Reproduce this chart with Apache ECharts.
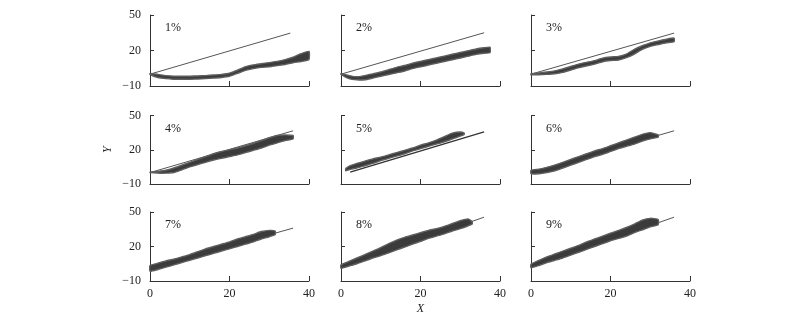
<!DOCTYPE html>
<html>
<head>
<meta charset="utf-8">
<script src="https://cdn.jsdelivr.net/npm/echarts@6/dist/echarts.min.js"></script>
<style>
  html, body { margin: 0; padding: 0; background: #fff; }
  #chart { width: 800px; height: 329px; }
</style>
</head>
<body>
<div id="chart"></div>
<script>
// Panel captions (growth rate per panel)
const panelLabels = ['1%', '2%', '3%', '4%', '5%', '6%', '7%', '8%', '9%'];

// Axis ranges and tick labels
const xTickValues = [0, 20, 40];
const yTickValues = [-10, 20, 50];

// Simulated trajectory envelopes: x positions, lower and upper edges
const bandX1 = [0, 2, 4, 6, 8, 10, 12, 14, 16, 18, 20, 22, 24, 26, 28, 30, 32, 34, 36, 38, 40];
const bandLow1 = [-0.3, -2.8, -3.8, -4.3, -4.3, -4.3, -4.1, -3.8, -3.3, -2.8, -1.8, 0.7, 3.2, 4.7, 5.7, 6.2, 7.2, 8.2, 9.7, 10.7, 12.3];
const bandHigh1 = [0.6, -0.2, -1.2, -1.7, -1.7, -1.7, -1.5, -1.2, -0.7, -0.2, 0.8, 3.3, 6.3, 7.8, 8.8, 9.8, 10.8, 12.3, 14.3, 17.3, 19.3];

const bandX2 = [0, 2, 4, 6, 8, 10, 12, 14, 16, 18, 20, 22, 24, 26, 28, 30, 32, 34, 36, 37.5];
const bandLow2 = [-0.3, -3.8, -4.8, -4.8, -3.3, -1.8, -0.3, 1.2, 2.7, 4.7, 6.2, 7.7, 9.2, 10.7, 12.2, 13.7, 15.2, 16.7, 17.7, 18.2];
const bandHigh2 = [0.6, -1.2, -2.2, -1.2, 0.3, 1.8, 3.8, 5.8, 7.3, 9.3, 10.8, 12.3, 13.8, 15.3, 16.8, 18.3, 19.8, 21.3, 22.3, 22.8];

const bandX3 = [0, 2, 4, 6, 8, 10, 12, 14, 16, 18, 20, 22, 24, 26, 28, 30, 32, 34, 36];
const bandLow3 = [-0.5, -0.5, -0.2, 0.3, 1.5, 3.5, 5.5, 7, 8.5, 10.5, 11.5, 12, 14, 17, 21, 23.5, 25, 26.5, 27.5];
const bandHigh3 = [0.5, 1, 1.8, 2.8, 4.5, 6.5, 8.5, 10, 11.5, 13.5, 14.5, 15, 17, 21, 24, 26.5, 28, 29.5, 30.5];

const bandX4 = [0, 2, 4, 6, 8, 10, 12, 14, 16, 18, 20, 22, 24, 26, 28, 30, 32, 34, 36];
const bandLow4 = [0, -0.5, -0.5, 0, 2.5, 5, 7, 9, 11, 12.5, 14, 15.5, 17.5, 19.5, 21.5, 24, 26, 28, 29.5];
const bandHigh4 = [0.3, 1, 2, 4, 6.5, 9, 11.5, 14, 16.5, 18.5, 20, 21.5, 23.5, 25.5, 28, 30.5, 32.5, 33, 32.5];

const bandX5 = [1.2, 2, 4, 6, 8, 10, 12, 14, 16, 18, 20, 22, 24, 26, 28, 30, 31];
const bandLow5 = [1.5, 2.5, 4, 6, 8, 10.5, 12.5, 14.5, 16.5, 19, 21, 23, 25, 27, 29.5, 32, 33.5];
const bandHigh5 = [3.5, 5.5, 8, 10, 12, 13.5, 15.5, 17.5, 19.5, 21.5, 24, 26, 28.5, 31.5, 34.5, 35.5, 34.5];

const bandX6 = [0, 2, 4, 6, 8, 10, 12, 14, 16, 18, 20, 22, 24, 26, 28, 30, 32];
const bandLow6 = [-1, -1, 0, 1.5, 4, 6.5, 9, 11.5, 14, 16, 18.5, 21, 23, 25, 27.5, 29.5, 31];
const bandHigh6 = [2, 3, 4.5, 6.5, 9, 11.5, 14, 16.5, 19, 21, 23.5, 26, 28.5, 31, 33.5, 35, 33];

const bandX7 = [0, 2, 4, 6, 8, 10, 12, 14, 16, 18, 20, 22, 24, 26, 28, 30, 31.5];
const bandLow7 = [-1.5, 0, 2, 4, 6, 8, 10, 12, 14, 16, 18, 20, 22, 24, 26.5, 28.5, 30.5];
const bandHigh7 = [3.5, 5.5, 7.5, 9, 11, 13, 15.5, 18, 20, 22, 24, 26.5, 28.5, 30.5, 33, 34, 33.5];

const bandX8 = [0, 2, 4, 6, 8, 10, 12, 14, 16, 18, 20, 22, 24, 26, 28, 30, 32, 33];
const bandLow8 = [1, 3, 5, 7.5, 10, 12, 14.5, 17, 19.5, 22, 24.5, 27, 29, 31, 33.5, 35.5, 38, 39.5];
const bandHigh8 = [4, 7, 10, 13, 16, 19, 22.5, 25.5, 28, 30, 32, 34, 35.5, 37.5, 40, 42.5, 44, 41.5];

const bandX9 = [0, 2, 4, 6, 8, 10, 12, 14, 16, 18, 20, 22, 24, 26, 28, 30, 32];
const bandLow9 = [1.5, 3.5, 6, 8, 10, 12.5, 15, 17.5, 20, 22.5, 25, 27, 29, 32, 34.5, 37, 39];
const bandHigh9 = [4.5, 8, 11, 13.5, 16, 18.5, 21, 24, 26.5, 29, 31.5, 34, 36.5, 39.5, 43, 44.5, 43.5];

// Deterministic reference trajectory per panel (start and end points)
const refX = [[0, 35.3], [0, 36], [0, 36], [0, 36], [2.3, 36], [0, 36], [0, 36], [0, 36], [0, 36]];
const refY = [[0, 34.7], [0, 35], [0, 34.7], [0, 36.6], [0.3, 35.6], [0.5, 36.6], [1, 36], [2, 45.5], [2, 45.5]];

const bandX = [bandX1, bandX2, bandX3, bandX4, bandX5, bandX6, bandX7, bandX8, bandX9];
const bandLow = [bandLow1, bandLow2, bandLow3, bandLow4, bandLow5, bandLow6, bandLow7, bandLow8, bandLow9];
const bandHigh = [bandHigh1, bandHigh2, bandHigh3, bandHigh4, bandHigh5, bandHigh6, bandHigh7, bandHigh8, bandHigh9];

// Panel placement (pixels)
const colLeft = [150, 341, 531];
const colWidth = 159;
const rowTop = [15, 115.5, 212];
const rowHeight = [71, 68.5, 69];

const FONT = 'Liberation Serif';
const INK = '#222';
const AXIS = '#333';

const fmtNum = v => String(v).replace('-', '\u2212');

const grids = [], xAxes = [], yAxes = [], titles = [], series = [];

for (let i = 0; i < 9; i++) {
  const r = Math.floor(i / 3), c = i % 3;
  grids.push({ left: colLeft[c], top: rowTop[r], width: colWidth, height: rowHeight[r], containLabel: false });
  xAxes.push({
    gridIndex: i, type: 'value',
    min: xTickValues[0], max: xTickValues[xTickValues.length - 1],
    interval: xTickValues[1] - xTickValues[0],
    axisLine: { show: true, onZero: false, lineStyle: { color: AXIS, width: 1 } },
    axisTick: { show: true, inside: true, length: 5, lineStyle: { color: AXIS } },
    axisLabel: { show: r === 2, margin: 7, color: INK, fontFamily: FONT, fontSize: 12 },
    splitLine: { show: false },
    name: (i === 7) ? 'X' : '',
    nameLocation: 'middle', nameGap: 22,
    nameTextStyle: { fontFamily: FONT, fontStyle: 'italic', fontSize: 12, color: INK }
  });
  yAxes.push({
    gridIndex: i, type: 'value',
    min: yTickValues[0], max: yTickValues[yTickValues.length - 1],
    interval: yTickValues[1] - yTickValues[0],
    axisLine: { show: true, onZero: false, lineStyle: { color: AXIS, width: 1 } },
    axisTick: { show: true, inside: true, length: 4, lineStyle: { color: AXIS } },
    axisLabel: { show: c === 0, margin: 9, color: INK, fontFamily: FONT, fontSize: 12, formatter: fmtNum },
    splitLine: { show: false },
    name: (i === 3) ? 'Y' : '',
    nameLocation: 'middle', nameGap: 36, nameRotate: 90,
    nameTextStyle: { fontFamily: FONT, fontStyle: 'italic', fontSize: 12, color: INK }
  });
  titles.push({
    text: panelLabels[i], left: colLeft[c] + 15, top: rowTop[r] + 7, padding: 0,
    textStyle: { fontFamily: FONT, fontWeight: 'normal', fontSize: 12, color: INK }
  });

  // straight reference trajectory
  series.push({
    type: 'line', xAxisIndex: i, yAxisIndex: i,
    data: refX[i].map((x, k) => [x, refY[i][k]]),
    showSymbol: false, silent: true, z: 2,
    lineStyle: { color: (i === 4) ? '#333' : '#555', width: (i === 4) ? 1.3 : 1 }
  });

  // envelope of the simulated trajectories
  const xs = bandX[i], lo = bandLow[i], hi = bandHigh[i];
  series.push({
    type: 'custom', xAxisIndex: i, yAxisIndex: i, silent: true, z: 3,
    data: xs.map((x, k) => [x, lo[k], hi[k]]),
    encode: { x: 0, y: [1, 2] },
    renderItem: (params, api) => {
      if (params.dataIndex !== 0) return null;
      const pts = [];
      for (let k = 0; k < xs.length; k++) pts.push(api.coord([xs[k], hi[k]]));
      for (let k = xs.length - 1; k >= 0; k--) pts.push(api.coord([xs[k], lo[k]]));
      return {
        type: 'polygon',
        shape: { points: pts, smooth: 0.15 },
        style: { fill: '#3b3b3b', stroke: '#5e5e5e', lineWidth: 1.4, lineJoin: 'round' }
      };
    }
  });
}

const chart = echarts.init(document.getElementById('chart'), null, { renderer: 'canvas' });
chart.setOption({
  animation: false,
  backgroundColor: '#fff',
  title: titles,
  grid: grids,
  xAxis: xAxes,
  yAxis: yAxes,
  series: series
});
</script>
</body>
</html>
